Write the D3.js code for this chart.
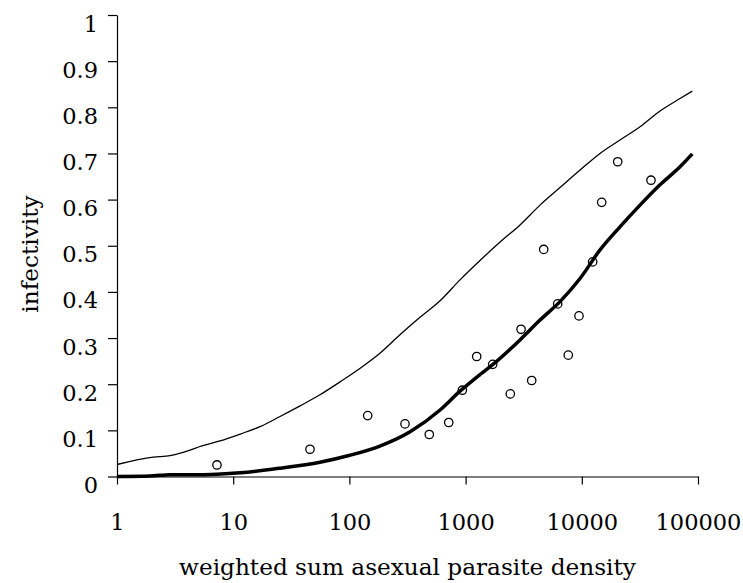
<!DOCTYPE html>
<html>
<head>
<meta charset="utf-8">
<script src="https://cdn.jsdelivr.net/npm/d3@7"></script>
<style>
  body { margin: 0; background: #fff; }
  svg text { font-family: "DejaVu Serif", "Liberation Serif", serif; fill: #000; }
</style>
</head>
<body>
<div id="chart"></div>
<script>
// observed points: [density, infectivity]
const observed = [
  [7.25, 0.025], [45.8, 0.059], [143.7, 0.132], [301, 0.114], [487, 0.091],
  [716, 0.117], [937, 0.187], [1246, 0.260], [1711, 0.243], [2426, 0.179],
  [3000, 0.319], [3705, 0.208], [4700, 0.492], [6200, 0.374], [7650, 0.263],
  [9460, 0.348], [12400, 0.465], [14830, 0.594], [20370, 0.682], [39400, 0.642]
];

// thin curve (upper)
const upperCurve = [
  [1, 0.026], [2.05, 0.042], [2.86, 0.045], [4.25, 0.057], [5.18, 0.065],
  [7.69, 0.077], [11.5, 0.092], [17, 0.108], [25.3, 0.130], [37.6, 0.153],
  [55.8, 0.177], [83, 0.205], [123, 0.234], [183, 0.267], [272, 0.307],
  [405, 0.345], [603, 0.381], [895, 0.426], [1330, 0.468], [1980, 0.508],
  [2940, 0.545], [4370, 0.588], [6490, 0.626], [9660, 0.664], [14350, 0.700],
  [21300, 0.729], [31700, 0.758], [47100, 0.792], [70000, 0.819], [89300, 0.835]
];

// thick curve (fitted)
const fitCurve = [
  [1, 0.000], [1.92, 0.001], [2.86, 0.004], [5.18, 0.004], [7.21, 0.005],
  [11.5, 0.008], [25.3, 0.018], [55.8, 0.031], [101, 0.046], [183, 0.066],
  [333, 0.097], [603, 0.144], [895, 0.185], [1330, 0.221], [1720, 0.243],
  [2940, 0.296], [4370, 0.339], [6490, 0.379], [9660, 0.429], [14350, 0.491],
  [21300, 0.541], [31700, 0.588], [47100, 0.632], [70000, 0.671], [89300, 0.699]
];

const xTicks = [1, 10, 100, 1000, 10000, 100000];
const xTickLabels = ["1", "10", "100", "1000", "10000", "100000"];
const yTicks = [0, 0.1, 0.2, 0.3, 0.4, 0.5, 0.6, 0.7, 0.8, 0.9, 1];
const yTickLabels = ["0", "0.1", "0.2", "0.3", "0.4", "0.5", "0.6", "0.7", "0.8", "0.9", "1"];

const width = 743, height = 583;
const plotLeft = 117, plotRight = 698, plotTop = 15, plotBottom = 476.5;

const svg = d3.select("#chart").append("svg")
  .attr("width", width)
  .attr("height", height);

const x = d3.scaleLog().domain([1, 100000]).range([plotLeft, plotRight]);
const y = d3.scaleLinear().domain([0, 1]).range([plotBottom, plotTop]);

// axes
const xAxis = svg.append("g")
  .attr("transform", `translate(0,${plotBottom})`)
  .call(d3.axisBottom(x).tickValues(xTicks).tickSize(8).tickSizeOuter(0)
    .tickFormat((d, i) => xTickLabels[i]));
xAxis.selectAll("text")
  .attr("y", 53.5).attr("dy", 0)
  .style("font-size", "22.5px");

const yAxis = svg.append("g")
  .attr("transform", `translate(${plotLeft},0)`)
  .call(d3.axisLeft(y).tickValues(yTicks).tickSize(9).tickSizeOuter(0)
    .tickFormat((d, i) => yTickLabels[i]));
yAxis.selectAll("text")
  .attr("x", -19).attr("dy", 16)
  .style("font-size", "22.5px");

svg.selectAll(".domain, .tick line").attr("stroke", "#000").attr("stroke-width", 1.2);

// curves
const line = d3.line()
  .x(d => x(d[0]))
  .y(d => y(d[1]))
  .curve(d3.curveMonotoneX);

svg.append("path")
  .datum(upperCurve)
  .attr("d", line)
  .attr("fill", "none")
  .attr("stroke", "#000")
  .attr("stroke-width", 1.3);

svg.append("path")
  .datum(fitCurve)
  .attr("d", line)
  .attr("fill", "none")
  .attr("stroke", "#000")
  .attr("stroke-width", 3.5)
  .attr("stroke-linejoin", "round");

// observed circles
svg.selectAll(".pt")
  .data(observed)
  .enter().append("circle")
  .attr("class", "pt")
  .attr("cx", d => x(d[0]))
  .attr("cy", d => y(d[1]))
  .attr("r", 4.2)
  .attr("fill", "none")
  .attr("stroke", "#000")
  .attr("stroke-width", 1.3);

// axis titles
svg.append("text")
  .attr("x", (plotLeft + plotRight) / 2)
  .attr("y", 575)
  .attr("text-anchor", "middle")
  .style("font-size", "23.2px")
  .text("weighted sum asexual parasite density");

svg.append("text")
  .attr("transform", "translate(38,254) rotate(-90)")
  .attr("text-anchor", "middle")
  .style("font-size", "23.2px")
  .text("infectivity");
</script>
</body>
</html>
